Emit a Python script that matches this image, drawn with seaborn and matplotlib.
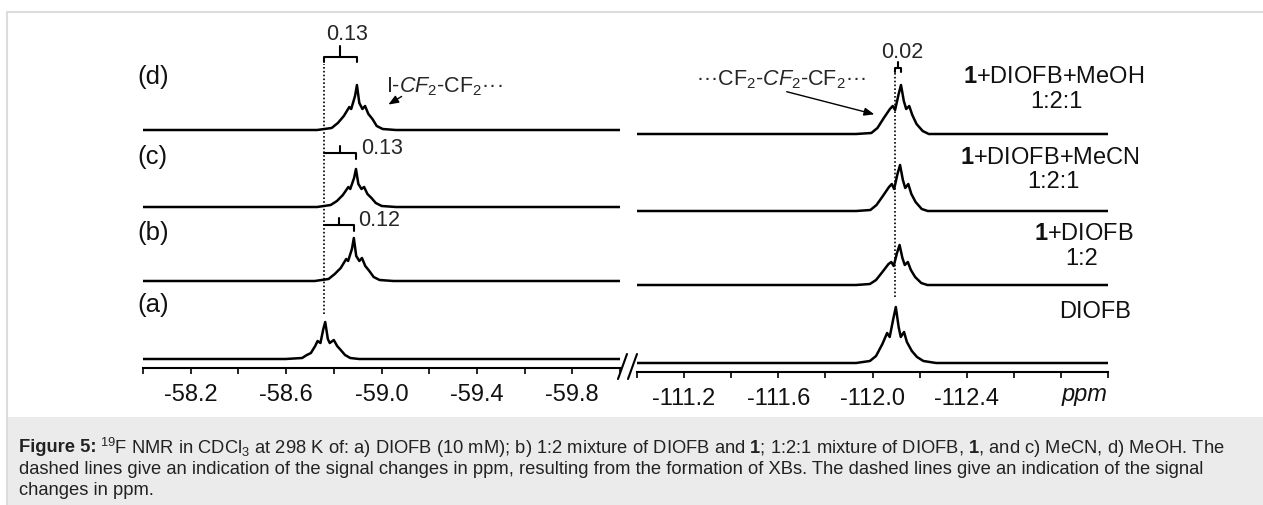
import matplotlib
matplotlib.use('Agg')
import matplotlib.pyplot as plt
import seaborn as sns
import pandas as pd
from matplotlib.lines import Line2D
from matplotlib.patches import Rectangle

W, H = 1263, 506

# traces, bottom (a) to top (d); intensities in px above baseline
trace_names = ['(a)', '(b)', '(c)', '(d)']

left_ppm_a = [-58.0, -58.598, -58.667, -58.687, -58.704, -58.722, -58.732, -58.744, -58.756,
              -58.764, -58.775, -58.783, -58.800, -58.814, -58.829, -58.847, -58.869, -58.906, -60.0]
left_int_a = [0, 0, 1, 4, 6, 13, 18, 16, 30, 37, 20, 16, 19, 13, 9, 4, 1, 0, 0]
left_ppm_b = [-58.0, -58.72, -58.778, -58.804, -58.829, -58.852, -58.860, -58.876, -58.884,
              -58.894, -58.907, -58.918, -58.932, -58.949, -58.967, -58.992, -59.05, -60.0]
left_int_b = [0, 0, 2, 7, 13, 22, 20, 32, 43, 25, 20, 23, 15, 10, 4, 1, 0, 0]
left_ppm_c = [-58.0, -58.73, -58.787, -58.813, -58.838, -58.861, -58.869, -58.885, -58.893,
              -58.903, -58.916, -58.927, -58.941, -58.958, -58.976, -59.001, -59.06, -60.0]
left_int_c = [0, 0, 2, 6, 12, 20, 18, 29, 38, 23, 18, 20, 13, 9, 4, 1, 0, 0]
left_ppm_d = [-58.0, -58.73, -58.791, -58.817, -58.842, -58.865, -58.873, -58.889, -58.897,
              -58.907, -58.920, -58.931, -58.945, -58.962, -58.980, -59.005, -59.06, -60.0]
left_int_d = [0, 0, 2, 7, 14, 23, 21, 34, 45, 27, 21, 24, 16, 11, 4, 1, 0, 0]

right_ppm_a = [-111.0, -111.93, -111.989, -112.015, -112.042, -112.062, -112.073, -112.089,
               -112.099, -112.111, -112.120, -112.134, -112.146, -112.167, -112.189, -112.216,
               -112.27, -113.0]
right_int_a = [0, 0, 2, 7, 19, 30, 26, 45, 56, 36, 26, 31, 21, 12, 6, 2, 0, 0]
right_ppm_b = [-111.0, -111.93, -111.989, -112.015, -112.042, -112.068, -112.080, -112.090,
               -112.104, -112.115, -112.127, -112.137, -112.150, -112.163, -112.181, -112.207,
               -112.233, -112.28, -113.0]
right_int_b = [0, 0, 1, 5, 13, 21, 23, 19, 32, 40, 27, 20, 23, 15, 8, 2, 0, 0, 0]
right_ppm_c = [-111.0, -111.93, -111.991, -112.017, -112.044, -112.070, -112.082, -112.092,
               -112.106, -112.117, -112.129, -112.139, -112.152, -112.165, -112.183, -112.209,
               -112.235, -112.28, -113.0]
right_int_c = [0, 0, 1, 6, 15, 24, 27, 22, 37, 46, 31, 23, 27, 17, 9, 2, 0, 0, 0]
right_ppm_d = [-111.0, -111.93, -111.995, -112.021, -112.048, -112.074, -112.086, -112.096,
               -112.110, -112.121, -112.133, -112.143, -112.156, -112.169, -112.187, -112.213,
               -112.239, -112.29, -113.0]
right_int_d = [0, 0, 1, 6, 16, 25, 28, 24, 39, 49, 33, 25, 28, 19, 10, 3, 0, 0, 0]

# peak positions used for the shift markers
left_ref_ppm = -58.758
left_peak_ppm = [-58.884, -58.893, -58.897]   # (b), (c), (d)
right_ref_ppm = -112.095
right_peak_ppm = -112.121                     # (d)
shift_labels = ['0.12', '0.13', '0.13', '0.02']

left_ticks = ['-58.2', '-58.6', '-59.0', '-59.4', '-59.8']
left_minor = [-58.0, -58.4, -58.8, -59.2, -59.6, -60.0]
right_ticks = ['-111.2', '-111.6', '-112.0', '-112.4']
right_minor = [-111.0, -111.4, -111.8, -112.2, -112.6, -112.8, -113.0]

sample_labels = [['DIOFB'],
                 [r'$\mathbf{1}$+DIOFB', '1:2'],
                 [r'$\mathbf{1}$+DIOFB+MeCN', '1:2:1'],
                 [r'$\mathbf{1}$+DIOFB+MeOH', '1:2:1']]


def fx(px):
    return px / W


def fy(py):
    return 1 - py / H


sns.set_theme(style='ticks')
plt.rcParams['font.family'] = ['Liberation Sans', 'DejaVu Sans']
plt.rcParams['mathtext.fontset'] = 'custom'
plt.rcParams['mathtext.rm'] = 'Liberation Sans'
plt.rcParams['mathtext.it'] = 'Liberation Sans:italic'
plt.rcParams['mathtext.bf'] = 'Liberation Sans:bold'

fig = plt.figure(figsize=(W / 100, H / 100), dpi=100)

# page frame and caption box
fig.add_artist(Line2D([fx(7), 1], [fy(13), fy(13)], transform=fig.transFigure,
                      color='#dcdcdc', lw=1.5))
fig.add_artist(Line2D([fx(7), fx(7)], [fy(13), 0], transform=fig.transFigure,
                      color='#dcdcdc', lw=1.5))
fig.add_artist(Rectangle((fx(7), 0), 1 - fx(7), fy(418), transform=fig.transFigure,
                         color='#ebebeb', lw=0))

offsets = [9, 87, 161, 238]

ax_l = fig.add_axes([fx(143), fy(369), (620 - 143) / W, (369 - 13) / H])
ax_r = fig.add_axes([fx(637), fy(373), (1108 - 637) / W, (373 - 13) / H])

left_traces = [(left_ppm_a, left_int_a), (left_ppm_b, left_int_b),
               (left_ppm_c, left_int_c), (left_ppm_d, left_int_d)]
right_traces = [(right_ppm_a, right_int_a), (right_ppm_b, right_int_b),
                (right_ppm_c, right_int_c), (right_ppm_d, right_int_d)]

for ax, traces in [(ax_l, left_traces), (ax_r, right_traces)]:
    for (ppm, inten), off in zip(traces, offsets):
        df = pd.DataFrame({'ppm': ppm, 'y': [v + off for v in inten]})
        sns.lineplot(data=df, x='ppm', y='y', ax=ax, color='black', lw=1.8,
                     estimator=None, sort=False)
    ax.set_facecolor('none')
    ax.set_xlabel('')
    ax.set_ylabel('')
    ax.set_yticks([])
    for s in ['top', 'left', 'right']:
        ax.spines[s].set_visible(False)
    ax.spines['bottom'].set_linewidth(1.5)
    ax.spines['bottom'].set_color('black')
    ax.tick_params(axis='x', which='both', direction='out', length=4.5, width=1.2,
                   color='black', labelsize=17, pad=6, labelcolor='#111111')

ax_l.set_xlim(-58.0, -60.0)
ax_l.set_ylim(0, 356)
ax_l.set_xticks([float(t) for t in left_ticks])
ax_l.set_xticklabels(left_ticks)
ax_l.set_xticks(left_minor, minor=True)

ax_r.set_xlim(-111.0, -113.0)
ax_r.set_ylim(0, 360)
ax_r.set_xticks([float(t) for t in right_ticks])
ax_r.set_xticklabels(right_ticks)
ax_r.set_xticks(right_minor, minor=True)

# dotted reference lines
ax_l.plot([left_ref_ppm, left_ref_ppm], [54, 304], color='black', lw=1.2, ls=(0, (1, 1.3)))
ax_r.plot([right_ref_ppm, right_ref_ppm], [75, 300], color='black', lw=1.2, ls=(0, (1, 1.3)))

# shift brackets
bk = dict(color='black', lw=1.5, clip_on=False)
p = left_peak_ppm[2]
mid = (left_ref_ppm + p) / 2
ax_l.plot([left_ref_ppm, left_ref_ppm, p, p], [306, 311, 311, 306], **bk)
ax_l.plot([mid, mid], [311, 322], **bk)
ax_l.text(mid - 0.03, 334, shift_labels[2], ha='center', va='center', fontsize=15.5)
for p, yb, lab in [(left_peak_ppm[1], 215, shift_labels[1]), (left_peak_ppm[0], 143, shift_labels[0])]:
    mid = (left_ref_ppm + p) / 2
    ax_l.plot([left_ref_ppm, p, p], [yb, yb, yb - 6], **bk)
    ax_l.plot([mid, mid], [yb, yb + 7], **bk)
    ax_l.text(p - 0.02, yb + 5, lab, ha='left', va='center', fontsize=15.5)

mid = (right_ref_ppm + right_peak_ppm) / 2
ax_r.plot([right_ref_ppm, right_ref_ppm, right_peak_ppm, right_peak_ppm],
          [300, 304, 304, 300], **bk)
ax_r.plot([mid, mid], [304, 310], **bk)
ax_r.text(mid - 0.02, 321, shift_labels[3], ha='center', va='center', fontsize=15.5)

# trace letters and sample names
letter_y = [305, 233, 157, 77]
for name, y in zip(trace_names, letter_y):
    fig.text(fx(137), fy(y), name, ha='left', va='center', fontsize=18.5, color='#111111')

label_pos = [[(1095, 312)], [(1084, 234), (1082, 259)],
             [(1050, 158), (1053, 182)], [(1054, 77), (1056, 102)]]
for lines, pos in zip(sample_labels, label_pos):
    for txt, (x, y) in zip(lines, pos):
        fig.text(fx(x), fy(y), txt, ha='center', va='center', fontsize=17, color='#111111')

# signal annotations
arrow = dict(arrowstyle='-|>,head_length=0.5,head_width=0.2', color='black', lw=1)
fig.text(fx(386), fy(87), r'I-$\mathit{CF}_2$-CF$_2$···', ha='left', va='center', fontsize=15.5)
ax_l.annotate('', xy=(386, H - 107), xytext=(404, H - 96), xycoords='figure pixels',
              textcoords='figure pixels', arrowprops=arrow)
fig.text(fx(781), fy(80), r'···CF$_2$-$\mathit{CF}_2$-CF$_2$···', ha='center', va='center',
         fontsize=15.5)
ax_r.annotate('', xy=(877, H - 116), xytext=(784, H - 92), xycoords='figure pixels',
              textcoords='figure pixels', arrowprops=arrow)

fig.text(fx(1085), fy(395), 'ppm', ha='center', va='center', fontsize=17, style='italic',
         color='#111111')

# axis break marks
for x0 in [618, 628]:
    fig.add_artist(Line2D([fx(x0), fx(x0 + 9)], [fy(380), fy(355)], transform=fig.transFigure,
                          color='black', lw=1.5))

# caption, bold lead-in measured so the rest follows it
cap_size = 13.2
cap_y = [448, 469.5, 491]
renderer = fig.canvas.get_renderer()
lead = fig.text(fx(19), fy(cap_y[0]), 'Figure 5:', ha='left', va='center', fontsize=cap_size,
                weight='bold', color='#222222')
x_after = lead.get_window_extent(renderer).x1 + 4
cap = [r'$^{19}$F NMR in CDCl$_3$ at 298 K of: a) DIOFB (10 mM); '
       r'b) 1:2 mixture of DIOFB and $\mathbf{1}$; 1:2:1 mixture of DIOFB, $\mathbf{1}$, '
       r'and c) MeCN, d) MeOH. The',
       'dashed lines give an indication of the signal changes in ppm, resulting from the '
       'formation of XBs. The dashed lines give an indication of the signal',
       'changes in ppm.']
fig.text(x_after / W, fy(cap_y[0]), cap[0], ha='left', va='center', fontsize=cap_size,
         color='#222222')
for line, y in zip(cap[1:], cap_y[1:]):
    fig.text(fx(19), fy(y), line, ha='left', va='center', fontsize=cap_size, color='#222222')

fig.savefig('out.png', dpi=100)
